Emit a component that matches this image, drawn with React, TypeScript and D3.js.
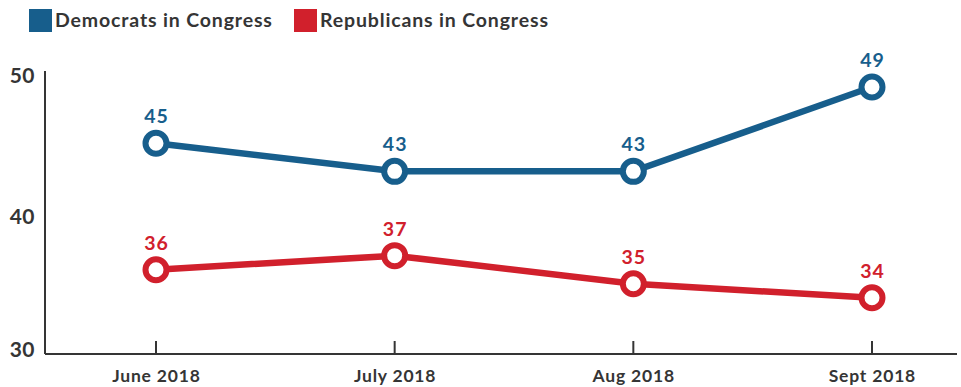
import React from "react";
import * as d3 from "d3";

const months = ["June 2018", "July 2018", "Aug 2018", "Sept 2018"];
const democrats = [45, 43, 43, 49];
const republicans = [36, 37, 35, 34];
const yTicks = [50, 40, 30];
const seriesNames = ["Democrats in Congress", "Republicans in Congress"];

const BLUE = "#175e8c";
const RED = "#d1202c";
const DARK = "#353535";
const FONT = "Lato, 'Open Sans', sans-serif";

export default function App() {
  const W = 961, H = 387;
  const x = d3.scalePoint<string>().domain(months).range([156, 872]);
  const y = d3.scaleLinear().domain([30, 50]).range([354, 73]);
  const line = d3.line<number>().x((_, i) => x(months[i])!).y((d) => y(d));
  const series = [
    { name: seriesNames[0], values: democrats, color: BLUE },
    { name: seriesNames[1], values: republicans, color: RED },
  ];
  const legendX = [29, 294];
  return (
    <svg width={W} height={H} style={{ position: "absolute", left: 0, top: 0, background: "#fff" }} fontFamily={FONT}>
      {series.map((s, i) => (
        <g key={s.name}>
          <rect x={legendX[i]} y={9} width={23} height={23} fill={s.color} />
          <text x={legendX[i] + 26} y={27} fontSize={19.5} fontWeight={700} letterSpacing={0.85} fill={DARK}>{s.name}</text>
        </g>
      ))}
      {/* y axis */}
      <line x1={45} x2={45} y1={y(50) - 2} y2={y(30)} stroke={DARK} strokeWidth={2} />
      {yTicks.map((t) => (
        <text key={t} x={35} y={t === 30 ? y(t) + 3 : y(t) + 10} textAnchor="end" fontSize={21} fontWeight={700} letterSpacing={0.5} fill={DARK}>{t}</text>
      ))}
      {/* x axis */}
      <line x1={45} x2={957} y1={y(30)} y2={y(30)} stroke={DARK} strokeWidth={2} />
      {months.map((m) => (
        <g key={m}>
          <line x1={x(m)} x2={x(m)} y1={y(30) - 13} y2={y(30)} stroke={DARK} strokeWidth={2} />
          <text x={x(m)! + 0.4} y={382} textAnchor="middle" fontSize={17.5} fontWeight={700} letterSpacing={0.8} fill={DARK}>{m}</text>
        </g>
      ))}
      {series.map((s) => (
        <g key={s.name + "l"}>
          <path d={line(s.values)!} fill="none" stroke={s.color} strokeWidth={6.5} />
          {s.values.map((v, i) => (
            <g key={i}>
              <circle cx={x(months[i])} cy={y(v)} r={10.5} fill="#fff" stroke={s.color} strokeWidth={6} />
              <text x={x(months[i])! + 0.5} y={y(v) - 20} textAnchor="middle" fontSize={19.5} fontWeight={700} letterSpacing={1} fill={s.color}>{v}</text>
            </g>
          ))}
        </g>
      ))}
    </svg>
  );
}
